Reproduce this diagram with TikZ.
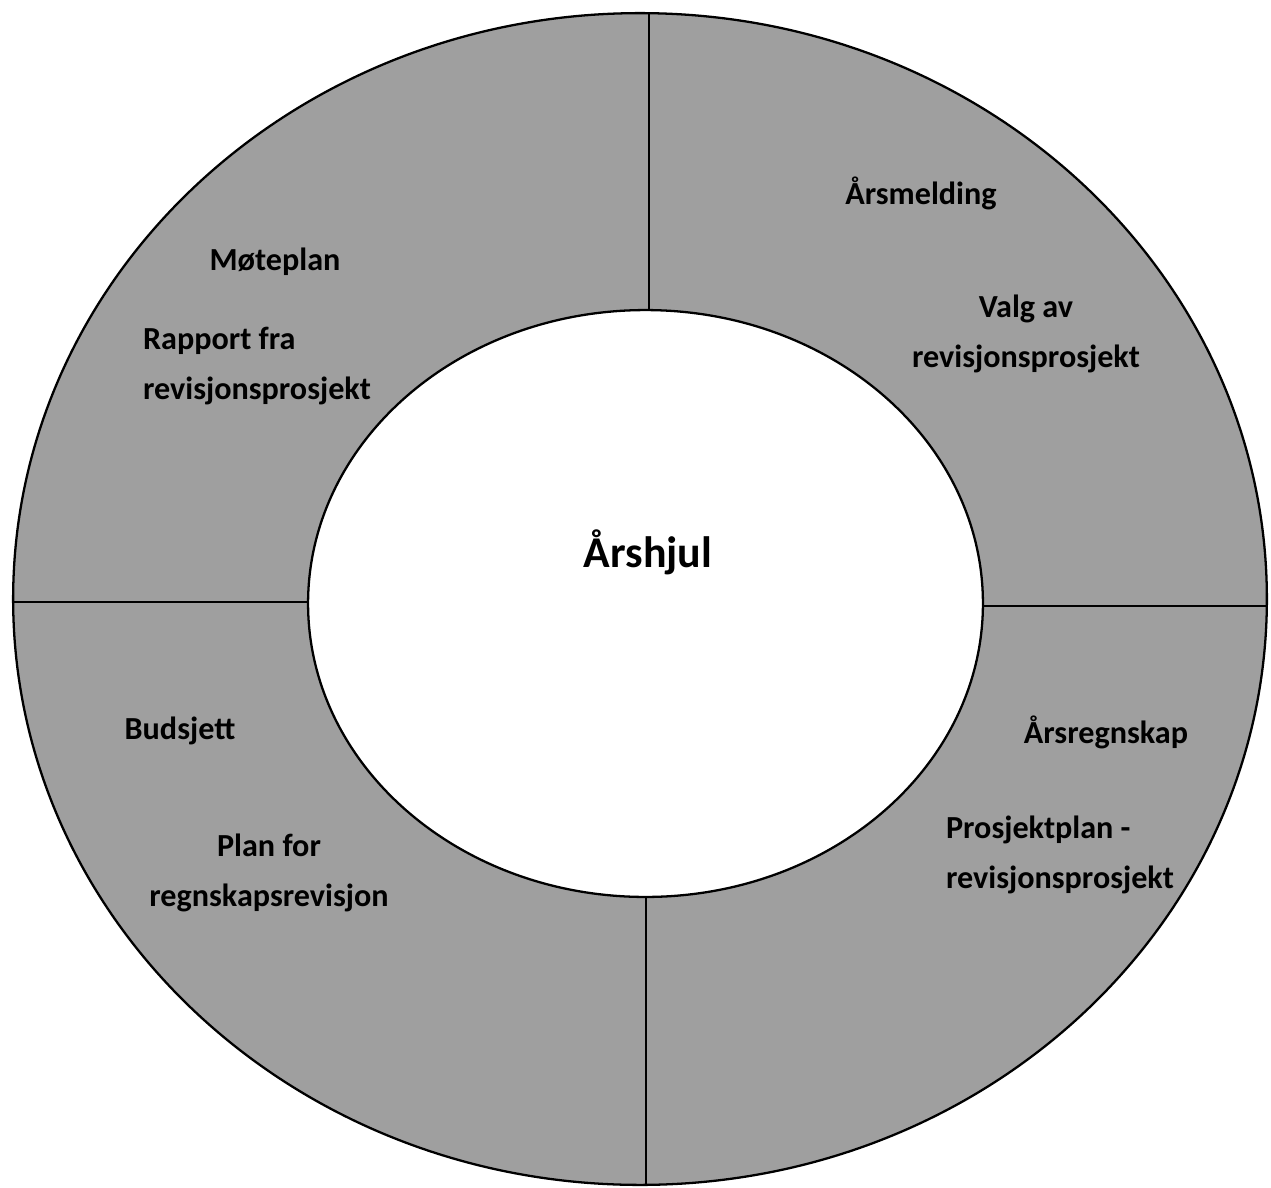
\documentclass[tikz,border=0pt]{standalone}
\usepackage{fontspec}
\setmainfont{Carlito}
\begin{document}
\begin{tikzpicture}[x=0.02cm,y=-0.02cm, every node/.style={font=\bfseries\fontsize{18.3}{28}\selectfont, align=center}]
            \useasboundingbox (0,0) rectangle (1271,1187);
            % ring
            \path[draw, line width=1.3pt, fill=gray!75, even odd rule]
                (640,599) ellipse [x radius=12.54cm, y radius=11.72cm]
                (645.5,603.5) ellipse [x radius=6.75cm, y radius=5.87cm];

            \coordinate (t1) at (649,13);   \coordinate (t2) at (649,310);
            \coordinate (l1) at (13,602);   \coordinate (l2) at (308,602);
            \coordinate (r1) at (983,606);  \coordinate (r2) at (1267,606);
            \coordinate (b1) at (646,897);  \coordinate (b2) at (646,1185);

            \draw [line width=1pt] (t1) -- (t2);
            \draw [line width=1pt] (l1) -- (l2);
            \draw [line width=1pt] (r1) -- (r2);
            \draw [line width=1pt] (b1) -- (b2);

            \node[font=\bfseries\fontsize{25}{30}\selectfont] at (648,552) (arshjul) {Årshjul};

            \node at (921,193)  (arsmelding) {Årsmelding};
            \node at (1026,334) (valg) {Valg av\\revisjonsprosjekt};
            \node at (275,262)  (moteplan) {Møteplan};
            \node[align=left] at (257,366) (rapport) {Rapport fra\\revisjonsprosjekt};
            \node at (1106,732) (arsregnskap) {Årsregnskap};
            \node[align=left] at (1060,855) (prosjektplan) {Prosjektplan -\\revisjonsprosjekt};
            \node at (180,731)  (budsjett) {Budsjett};
            \node at (269,873)  (plan) {Plan for\\regnskapsrevisjon};
        \end{tikzpicture}
\end{document}
